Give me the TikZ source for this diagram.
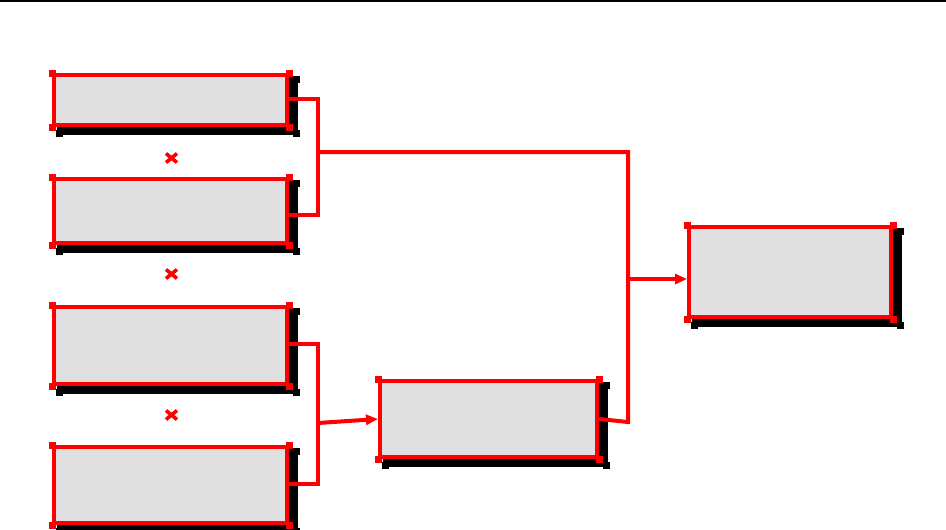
\documentclass[tikz,border=0pt]{standalone}
\usetikzlibrary{arrows.meta,backgrounds,calc}
\definecolor{boxgray}{HTML}{E0E0E0}
\definecolor{myred}{HTML}{FF0000}
\begin{document}
\begin{tikzpicture}[x=1pt,y=-1pt,
  boxnode/.style={rectangle, draw=myred, fill=boxgray, line width=4pt, inner sep=0pt},
  link/.style={draw=myred, line width=4pt, line join=miter},
  arr/.style={link, -{Triangle[length=12pt,width=10pt]}},
  crossmark/.style={draw=myred, line width=3.6pt},
  shadowbox/.style={draw=black, fill=black, line width=4pt}]
\useasboundingbox (0,0) rectangle (946,530);
% top rule
\draw[black, line width=1.5pt] (0,1) -- (946,1);

% boxes
\node[boxnode, minimum width=233pt, minimum height=50pt] (b1) at (170.5,100) {};
\node[boxnode, minimum width=233pt, minimum height=64pt] (b2) at (170.5,211) {};
\node[boxnode, minimum width=233pt, minimum height=77pt] (b3) at (170.5,345.5) {};
\node[boxnode, minimum width=233pt, minimum height=76pt] (b4) at (170.5,485) {};
\node[boxnode, minimum width=217pt, minimum height=76pt] (b5) at (488.5,419) {};
\node[boxnode, minimum width=202pt, minimum height=90pt] (b6) at (790,272) {};

% shadows
\begin{scope}[on background layer]
  \fill[white] (0,0) rectangle (946,530);
  \foreach \n in {b1,b2,b3,b4,b5,b6}{
    \draw[shadowbox] ([shift={(7,6)}]\n.north west) rectangle ([shift={(7,6)}]\n.south east);
    \fill[black] ([shift={(3.5,2.5)}]\n.south west) rectangle ([shift={(10.5,9.5)}]\n.south west);
    \fill[black] ([shift={(3.5,2.5)}]\n.south east) rectangle ([shift={(10.5,9.5)}]\n.south east);
    \fill[black] ([shift={(3.5,2.5)}]\n.north east) rectangle ([shift={(10.5,9.5)}]\n.north east);
  }
\end{scope}

% red corner marks
\foreach \n in {b1,b2,b3,b4,b5,b6}{
  \foreach \a in {north west,north east,south west,south east}{
    \fill[myred] ([shift={(-3.5,-3.5)}]\n.\a) rectangle ([shift={(3.5,3.5)}]\n.\a);
  }
}

% junctions
\coordinate (j1) at (318,152);
\coordinate (j2) at (318,423);
\coordinate (k1) at (628,152);
\coordinate (k2) at (628,279);
\coordinate (k3) at (628,422);

% connectors
\draw[link] ([yshift=1pt]b1.east) -| (j1) |- ([yshift=-4pt]b2.east);
\draw[link] ([yshift=2pt]b3.east) -| (j2) |- ([yshift=1pt]b4.east);
\draw[arr] (j2) -- (b5.west);
\draw[link] (b5.east) -- (k3) -- (k1) -- (j1);
\draw[arr] (k2) -- (b6.west |- k2);

% cross marks
\foreach \cy in {158,274,415}{
  \draw[crossmark] (166,\cy-4.5) -- (177,\cy+4.5);
  \draw[crossmark] (166,\cy+4.5) -- (177,\cy-4.5);
}
\end{tikzpicture}
\end{document}
